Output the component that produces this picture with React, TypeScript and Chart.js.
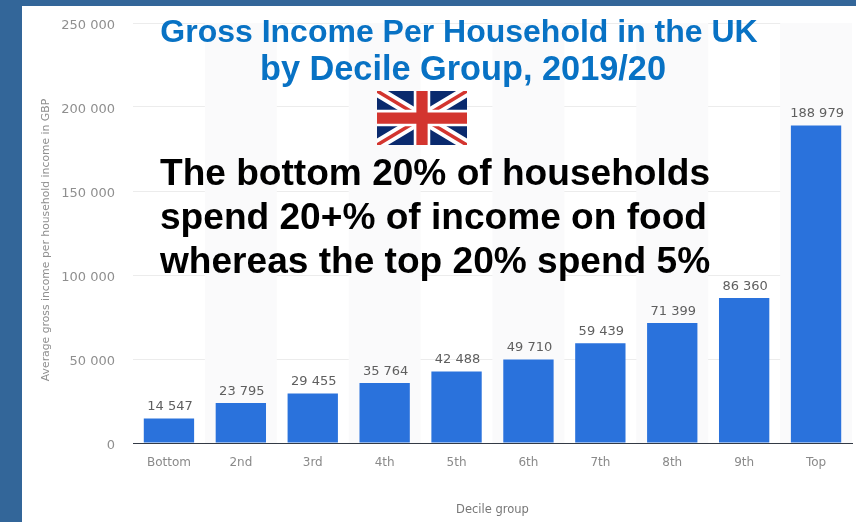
import React, { useEffect, useRef } from "react";
import { Chart, registerables } from "chart.js";

Chart.register(...registerables);

const categories = ["Bottom", "2nd", "3rd", "4th", "5th", "6th", "7th", "8th", "9th", "Top"];
const incomes = [14547, 23795, 29455, 35764, 42488, 49710, 59439, 71399, 86360, 188979];
const yTicks = [0, 50000, 100000, 150000, 200000, 250000];
const yTitle = "Average gross income per household income in GBP";
const titleLines = ["Gross Income Per Household in the UK", "by Decile Group, 2019/20"];
const messageLines = ["The bottom 20% of households", "spend 20+% of income on food", "whereas the top 20% spend 5%"];

const spaced = (n: number) => String(n).replace(/\B(?=(\d{3})+$)/g, " ");
const FONT = '"DejaVu Sans", sans-serif';

const bandsAndLabels = {
  id: "bandsAndLabels",
  beforeDatasetsDraw(chart: any) {
    const { ctx, chartArea, scales } = chart;
    ctx.save();
    ctx.fillStyle = "#fafafb";
    const step = scales.x.getPixelForValue(1) - scales.x.getPixelForValue(0);
    categories.forEach((_, i) => {
      if (i % 2 === 1) {
        ctx.fillRect(scales.x.getPixelForValue(i) - step / 2, chartArea.top, step, chartArea.height);
      }
    });
    ctx.restore();
  },
  afterDatasetsDraw(chart: any) {
    const { ctx, chartArea } = chart;
    const meta = chart.getDatasetMeta(0);
    ctx.save();
    ctx.font = `13px ${FONT}`;
    ctx.fillStyle = "#5f5f5f";
    ctx.textAlign = "center";
    ctx.textBaseline = "bottom";
    meta.data.forEach((bar: any, i: number) => {
      ctx.fillText(spaced(incomes[i]), bar.x + 1, bar.y - 5);
    });
    ctx.restore();

    ctx.save();
    ctx.font = `10.8px ${FONT}`;
    ctx.fillStyle = "#8f8f8f";
    ctx.textAlign = "center";
    ctx.textBaseline = "middle";
    ctx.translate(24, (chartArea.top + chartArea.bottom) / 2 + 7);
    ctx.rotate(-Math.PI / 2);
    ctx.fillText(yTitle, 0, 0);
    ctx.restore();
  },
};

function Flag() {
  return (
    <svg
      width={90}
      height={54}
      viewBox="0 0 60 36"
      preserveAspectRatio="none"
      style={{ position: "absolute", left: 377, top: 91 }}
    >
      <rect width="60" height="36" fill="#0a2a6e" />
      <path d="M0 0L60 36M60 0L0 36" stroke="#fff" strokeWidth="7.5" />
      <path d="M0 0L60 36M60 0L0 36" stroke="#d3352f" strokeWidth="2.4" />
      <path d="M30 0V36M0 18H60" stroke="#fff" strokeWidth="11" />
      <path d="M30 0V36M0 18H60" stroke="#d3352f" strokeWidth="7.5" />
    </svg>
  );
}

export default function App() {
  const ref = useRef<HTMLCanvasElement>(null);

  useEffect(() => {
    document.body.style.margin = "0";
    const chart = new Chart(ref.current!, {
      type: "bar",
      data: {
        labels: categories,
        datasets: [
          {
            data: incomes,
            backgroundColor: "#2a72dc",
            borderWidth: 0,
            categoryPercentage: 0.7,
            barPercentage: 1,
          },
        ],
      },
      options: {
        responsive: false,
        animation: false,
        layout: { padding: { top: 17, right: 4, left: 0, bottom: 0 } },
        plugins: { legend: { display: false }, tooltip: { enabled: false } },
        scales: {
          x: {
            afterFit: (s: any) => {
              s.height = 79;
            },
            grid: { display: false, drawTicks: false },
            border: { color: "#333a45", width: 1 },
            ticks: { color: "#8a8a8a", font: { family: FONT, size: 12 }, padding: 13, maxRotation: 0 },
            title: {
              display: true,
              text: "Decile group",
              color: "#777777",
              font: { family: FONT, size: 11.5 },
              padding: { top: 0, bottom: 5 },
            },
          },
          y: {
            min: 0,
            max: 250000,
            afterFit: (s: any) => {
              s.width = 111;
              s.paddingTop = 0;
              s.paddingBottom = 0;
            },
            afterBuildTicks: (s: any) => {
              s.ticks = yTicks.map((value) => ({ value }));
            },
            grid: { color: "#ececec", drawTicks: false, lineWidth: 1 },
            border: { display: false },
            ticks: {
              color: "#8f8f8f",
              font: { family: FONT, size: 13 },
              padding: 18,
              labelOffset: 3,
              callback: (v: any) => spaced(Number(v)),
            },
          },
        },
      },
      plugins: [bandsAndLabels],
    } as any);
    return () => chart.destroy();
  }, []);

  const overlayText: React.CSSProperties = {
    position: "absolute",
    fontFamily: '"Liberation Sans", Arial, sans-serif',
    fontWeight: 700,
    whiteSpace: "nowrap",
  };

  return (
    <div style={{ position: "relative", width: 856, height: 522, background: "#336699", overflow: "hidden" }}>
      <canvas
        ref={ref}
        width={834}
        height={516}
        style={{
          position: "absolute",
          left: 22,
          top: 6,
          width: 834,
          height: 516,
          background: "#fff",
          filter: "blur(0.4px)",
        }}
      />
      <div
        style={{
          ...overlayText,
          left: 129,
          width: 660,
          top: 13,
          textAlign: "center",
          color: "#0872c4",
          fontSize: 32,
          lineHeight: "37px",
        }}
      >
        <div>{titleLines[0]}</div>
        <div style={{ fontSize: 34.3, position: "relative", left: 4 }}>{titleLines[1]}</div>
      </div>
      <Flag />
      <div style={{ ...overlayText, left: 160, top: 150, color: "#000", fontSize: 37.1, lineHeight: "44px" }}>
        {messageLines.map((t) => (
          <div key={t}>{t}</div>
        ))}
      </div>
    </div>
  );
}
